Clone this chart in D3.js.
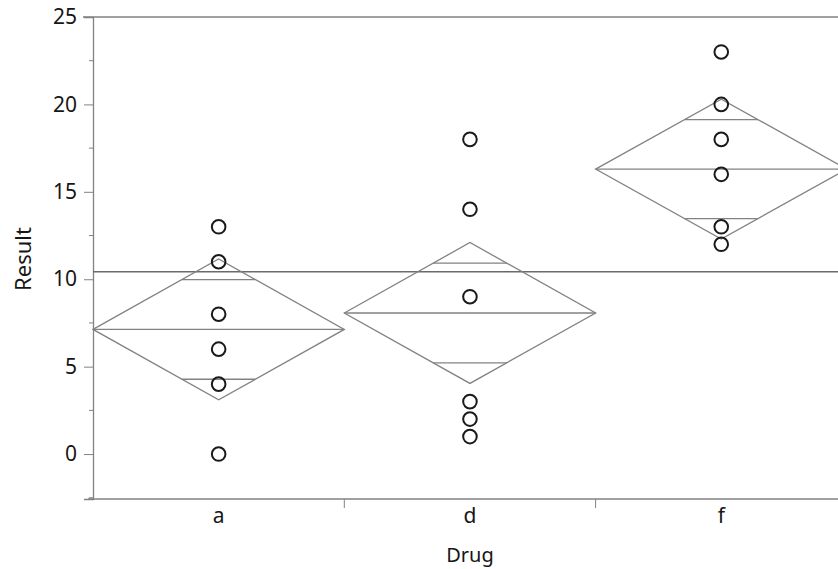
<!DOCTYPE html>
<html>
<head>
<meta charset="utf-8">
<script src="https://cdn.jsdelivr.net/npm/d3@7"></script>
<style>
  body { margin: 0; background: #fff; }
  text { font-family: "Noto Sans", "Open Sans", sans-serif; fill: #161616; }
</style>
</head>
<body>
<svg id="chart" width="838" height="569"></svg>
<script>
// Data
const drugs = ["a", "d", "f"];
const resultA = [0, 4, 6, 8, 11, 13];
const resultD = [1, 2, 3, 9, 14, 18];
const resultF = [12, 13, 16, 18, 20, 23];
const groupMeans = [7.13, 8.07, 16.3];
const ciHalfWidth = [4.03, 4.03, 4.0];
const grandMean = 10.43;
const yTicks = [0, 5, 10, 15, 20, 25];
const yMinorTicks = [-2.5, 2.5, 7.5, 12.5, 17.5, 22.5];

const points = [
  ...resultA.map(v => ({ drug: "a", value: v })),
  ...resultD.map(v => ({ drug: "d", value: v })),
  ...resultF.map(v => ({ drug: "f", value: v }))
];

const svg = d3.select("#chart");
const plotLeft = 93, plotTop = 17, plotBottom = 499;
const lineColor = "#828282";

const x = d3.scaleBand()
  .domain(drugs)
  .range([plotLeft, plotLeft + 3 * 251.3])
  .padding(0);

const y = d3.scaleLinear()
  .domain([-2.57, 25])
  .range([plotBottom, plotTop]);

// frame line at top
svg.append("line")
  .attr("x1", plotLeft - 10).attr("x2", 838)
  .attr("y1", plotTop).attr("y2", plotTop)
  .attr("stroke", lineColor).attr("stroke-width", 1.3);

// y axis
const yAxis = svg.append("g")
  .attr("transform", `translate(${plotLeft},0)`)
  .call(d3.axisLeft(y).tickValues(yTicks).tickSize(9).tickPadding(7).tickFormat(d3.format("d")));
yAxis.select(".domain").attr("stroke", lineColor).attr("stroke-width", 1.3);
yAxis.selectAll(".tick line").attr("stroke", lineColor);
yAxis.selectAll(".tick text").style("font-size", "21px").attr("fill", "#161616");

svg.append("g")
  .selectAll("line")
  .data(yMinorTicks)
  .join("line")
  .attr("x1", plotLeft - 4).attr("x2", plotLeft)
  .attr("y1", d => y(d)).attr("y2", d => y(d))
  .attr("stroke", lineColor);

// x axis
svg.append("line")
  .attr("x1", plotLeft - 5).attr("x2", 838)
  .attr("y1", plotBottom).attr("y2", plotBottom)
  .attr("stroke", lineColor).attr("stroke-width", 1.3);

svg.append("g")
  .selectAll("line")
  .data(drugs.slice(1))
  .join("line")
  .attr("x1", d => x(d)).attr("x2", d => x(d))
  .attr("y1", plotBottom).attr("y2", plotBottom + 9)
  .attr("stroke", lineColor);

svg.append("g")
  .selectAll("text")
  .data(drugs)
  .join("text")
  .attr("x", d => x(d) + x.bandwidth() / 2)
  .attr("y", 523)
  .attr("text-anchor", "middle")
  .style("font-size", "21px")
  .text(d => d);

// axis titles
svg.append("text")
  .attr("x", 470).attr("y", 562)
  .attr("text-anchor", "middle")
  .style("font-size", "20px")
  .text("Drug");

svg.append("text")
  .attr("transform", "translate(31,259) rotate(-90)")
  .attr("text-anchor", "middle")
  .style("font-size", "22px")
  .text("Result");

// grand mean line
svg.append("line")
  .attr("x1", plotLeft).attr("x2", 838)
  .attr("y1", y(grandMean)).attr("y2", y(grandMean))
  .attr("stroke", "#6a6a6a").attr("stroke-width", 1.4);

// means diamonds
const half = x.bandwidth() / 2;
const diamonds = svg.append("g")
  .selectAll("g")
  .data(drugs.map((d, i) => ({ drug: d, mean: groupMeans[i], ci: ciHalfWidth[i] })))
  .join("g");

diamonds.append("path")
  .attr("d", d => {
    const cx = x(d.drug) + half;
    return `M${cx - half},${y(d.mean)}L${cx},${y(d.mean + d.ci)}L${cx + half},${y(d.mean)}L${cx},${y(d.mean - d.ci)}Z`;
  })
  .attr("fill", "none")
  .attr("stroke", lineColor)
  .attr("stroke-width", 1.3);

diamonds.append("line")
  .attr("x1", d => x(d.drug)).attr("x2", d => x(d.drug) + 2 * half)
  .attr("y1", d => y(d.mean)).attr("y2", d => y(d.mean))
  .attr("stroke", lineColor).attr("stroke-width", 1.3);

// overlap marks at mean +/- ci/sqrt(2)
[1, -1].forEach(s => {
  diamonds.append("line")
    .attr("x1", d => x(d.drug) + half - half * (1 - Math.SQRT1_2))
    .attr("x2", d => x(d.drug) + half + half * (1 - Math.SQRT1_2))
    .attr("y1", d => y(d.mean + s * d.ci * Math.SQRT1_2))
    .attr("y2", d => y(d.mean + s * d.ci * Math.SQRT1_2))
    .attr("stroke", lineColor).attr("stroke-width", 1.3);
});

// points
svg.append("g")
  .selectAll("circle")
  .data(points)
  .join("circle")
  .attr("cx", d => x(d.drug) + half)
  .attr("cy", d => y(d.value))
  .attr("r", 6.8)
  .attr("fill", "none")
  .attr("stroke", "#1a1a1a")
  .attr("stroke-width", 2);
</script>
</body>
</html>
